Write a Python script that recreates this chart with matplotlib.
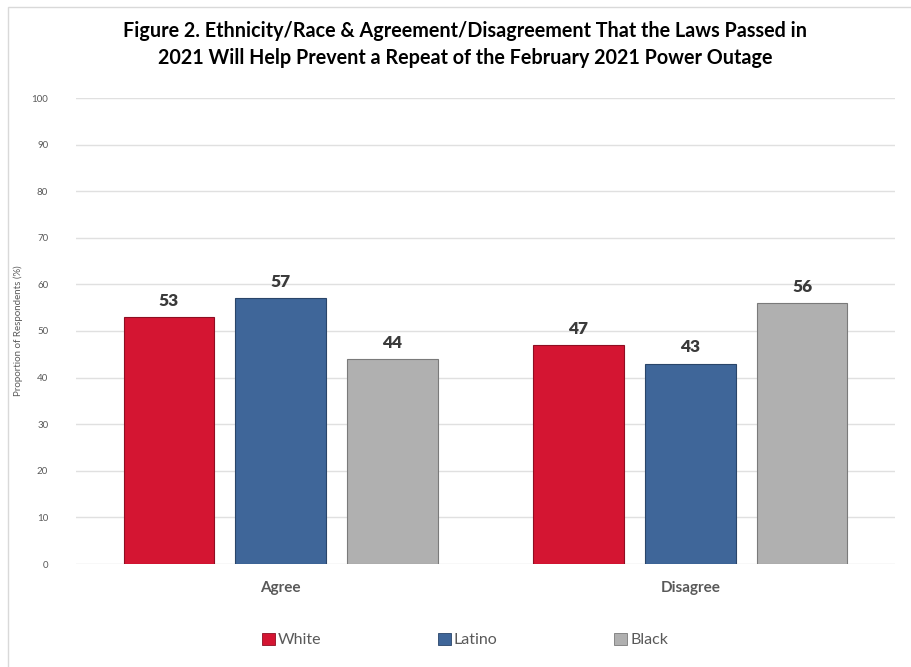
import matplotlib
matplotlib.use("Agg")
import matplotlib.pyplot as plt
from matplotlib.patches import Rectangle, Patch
import numpy as np

plt.rcParams['font.family'] = ['Lato', 'DejaVu Sans']

categories = ["Agree", "Disagree"]
series_names = ["White", "Latino", "Black"]
white = [53, 47]
latino = [57, 43]
black = [44, 56]
yticks = [0, 10, 20, 30, 40, 50, 60, 70, 80, 90, 100]

colors = ["#D41532", "#3F6699", "#B0B0B0"]
edges = ["#8E0E22", "#2A4569", "#7A7A7A"]

W, H = 912, 667
fig = plt.figure(figsize=(W/100, H/100), dpi=100)
fig.patches.append(Rectangle((8.5/W, -0.1), 1.0, 1.1 - 7/H, transform=fig.transFigure,
                             fill=False, edgecolor="#D9D9D9", linewidth=1.0))

ax = fig.add_axes([76/W, 1 - 564/H, (895-76)/W, (564-98)/H])
x = np.arange(len(categories))
bw = 0.222
step = 0.273
data = [white, latino, black]
for i, (vals, c, e) in enumerate(zip(data, colors, edges)):
    pos = x + (i - 1) * step
    ax.bar(pos, vals, width=bw, color=c, edgecolor=e, linewidth=0.8, zorder=3)
    for p, v in zip(pos, vals):
        ax.text(p, v + 1.8, f"{v}", ha="center", va="bottom", fontsize=12.5,
                fontweight="heavy", color="#3A3A3A", zorder=4)

ax.set_xlim(-0.5, 1.5)
ax.set_ylim(0, 100)
ax.set_yticks(yticks)
ax.yaxis.grid(True, color="#E0E0E0", linewidth=1.0, zorder=0)
ax.set_axisbelow(True)
for s in ax.spines.values():
    s.set_visible(False)
ax.tick_params(axis="y", length=0, labelsize=7, labelcolor="#595959", pad=20)
ax.tick_params(axis="x", length=0, labelsize=11, labelcolor="#595959", pad=12)
ax.set_xticks(x)
ax.set_xticklabels(categories, fontweight="bold")
ax.set_ylabel("Proportion of Respondents (%)", fontsize=7, color="#595959", labelpad=6)

fig.text(465/W, 1 - 31/H, "Figure 2. Ethnicity/Race & Agreement/Disagreement That the Laws Passed in",
         ha="center", va="center", fontsize=14.2, fontweight="bold", color="#000000")
fig.text(465/W, 1 - 58/H, "2021 Will Help Prevent a Repeat of the February 2021 Power Outage",
         ha="center", va="center", fontsize=14.2, fontweight="bold", color="#000000")

handles = [Patch(facecolor=c, edgecolor=e, linewidth=0.6) for c, e in zip(colors, edges)]
leg = fig.legend(handles, series_names, loc="center", bbox_to_anchor=(465/W, 1 - 640/H),
                 ncol=3, frameon=False, fontsize=11.5, handlelength=0.8, handleheight=0.8,
                 handletextpad=0.2, columnspacing=7.3, labelcolor="#595959")

fig.savefig("out.png", dpi=100)
